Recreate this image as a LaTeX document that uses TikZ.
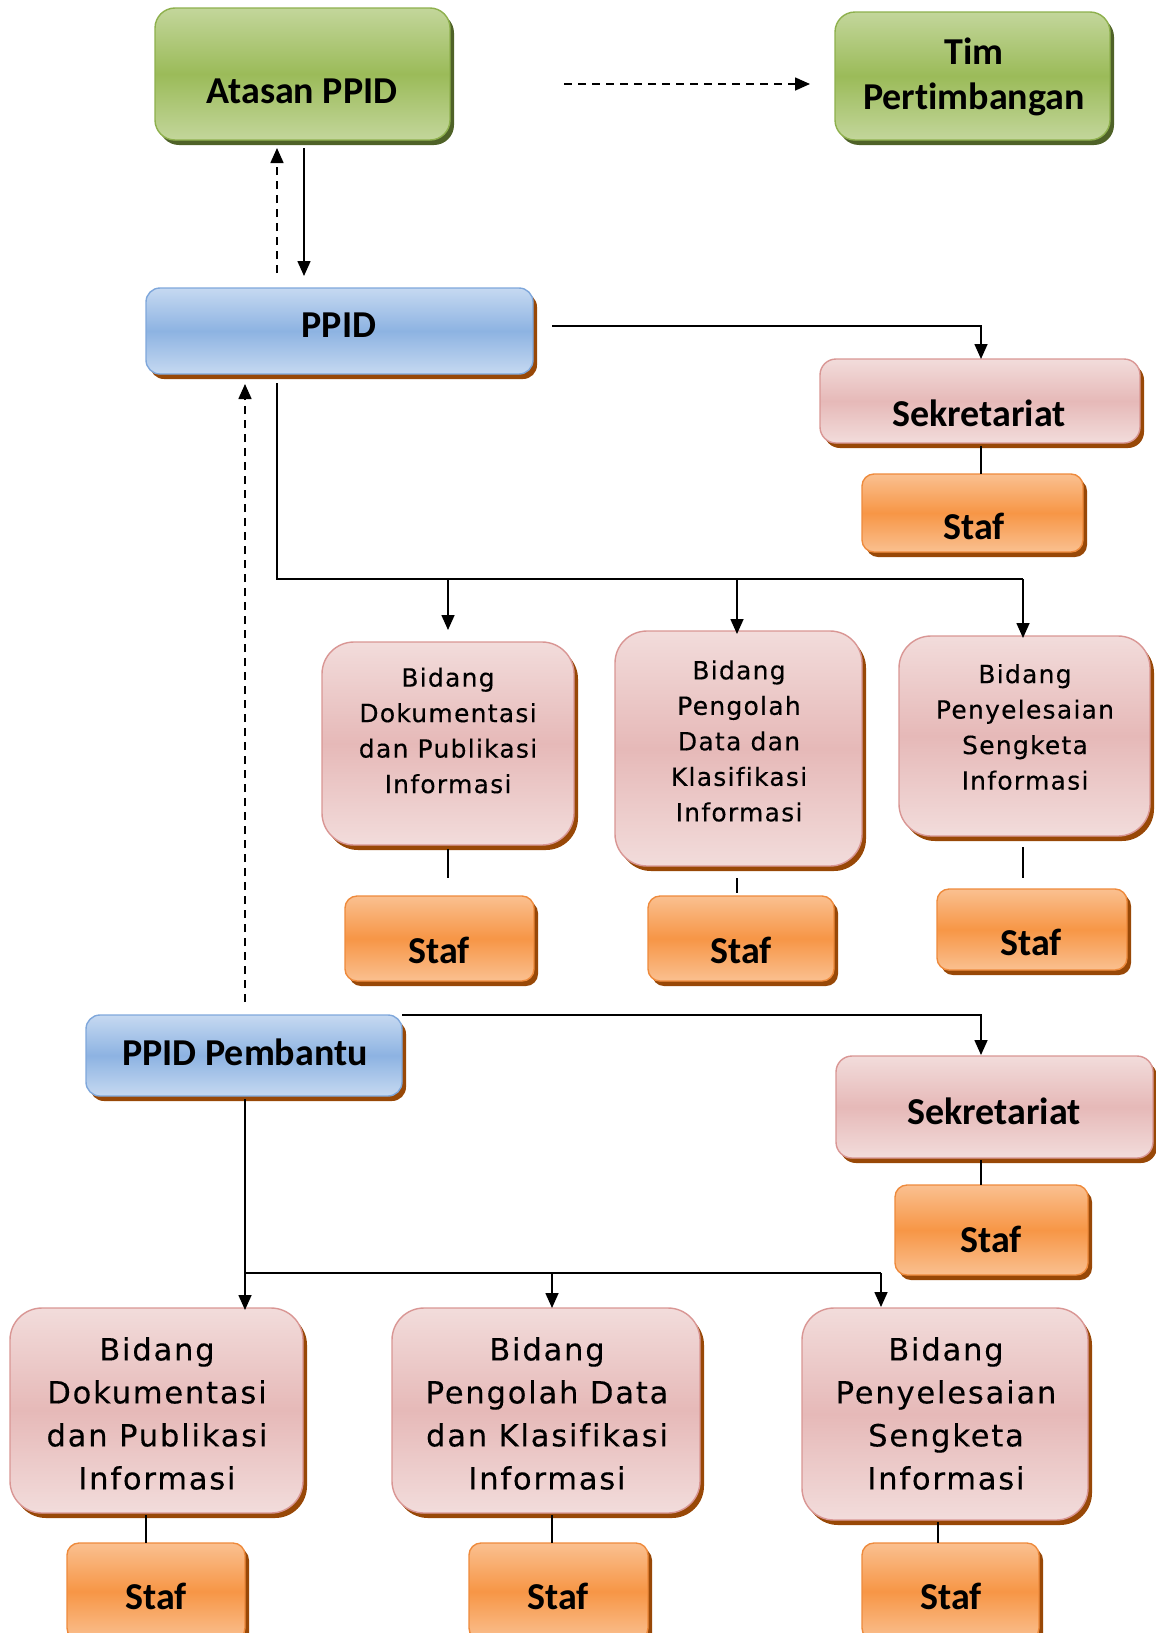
\documentclass[tikz,border=0pt]{standalone}
\usepackage{fontspec}
\setmainfont{Carlito}[Ligatures=CommonOff]
\newfontfamily\bidfont{DejaVu Sans}[LetterSpace=5,FakeBold=0.3,Ligatures=CommonOff]
\newfontfamily\bidfontB{DejaVu Sans}[LetterSpace=6,FakeBold=0.3,Ligatures=CommonOff]
\usetikzlibrary{arrows.meta,shadows}
\definecolor{gL}{HTML}{C3D69B}
\definecolor{gM}{HTML}{9BBB59}
\definecolor{gB}{HTML}{8EB04D}
\definecolor{gS}{HTML}{4F6228}
\definecolor{bL}{HTML}{C6D9F1}
\definecolor{bM}{HTML}{8DB3E2}
\definecolor{bB}{HTML}{7FA7DB}
\definecolor{pL}{HTML}{F2DCDB}
\definecolor{pM}{HTML}{E6B9B8}
\definecolor{pB}{HTML}{D99694}
\definecolor{oL}{HTML}{FAC090}
\definecolor{oM}{HTML}{F79646}
\definecolor{oB}{HTML}{EE8A3C}
\definecolor{shB}{HTML}{984807}
\begin{document}
\begin{tikzpicture}[x=1pt,y=-1pt,
  box/.style={line width=1.4pt, inner sep=0pt,
    drop shadow={shadow xshift=4pt,shadow yshift=-5pt,fill=#1,opacity=1}},
  box/.default=shB,
  gbox/.style={box=gS, draw=gB, top color=gL, bottom color=gL, middle color=gM, rounded corners=20pt},
  bbox/.style={box, draw=bB, top color=bL, bottom color=bL, middle color=bM, rounded corners=14pt},
  pbox/.style={box, draw=pB, top color=pL, bottom color=pL, middle color=pM, rounded corners=16pt},
  bidbox/.style={pbox, rounded corners=32pt},
  obox/.style={box, draw=oB, top color=oL, bottom color=oL, middle color=oM, rounded corners=12pt},
  head/.style={font=\bfseries\fontsize{38}{45}\selectfont, inner sep=0pt, align=center},
  bidA/.style={font=\bidfont\fontsize{25}{35.5}\selectfont, align=center, inner sep=0pt},
  bidB/.style={font=\bidfontB\fontsize{30.5}{43}\selectfont, align=center, inner sep=0pt},
  conn/.style={line width=1.6pt},
  arr/.style={conn, -{Triangle[length=15pt,width=13pt]}},
  darr/.style={arr, dash pattern=on 8pt off 6pt},
]
\useasboundingbox (0,0) rectangle (1156,1633);

% ---------- boxes ----------
\node[gbox, minimum width=295pt, minimum height=132pt] (atasan) at (302.5,74) {};
\node[gbox, minimum width=275pt, minimum height=128pt] (tim) at (972.5,76) {};
\node[bbox, minimum width=387pt, minimum height=86pt] (ppid) at (339.5,331) {};
\node[pbox, minimum width=320pt, minimum height=84pt] (sek1) at (980,401) {};
\node[obox, minimum width=221pt, minimum height=78pt] (staf1) at (972.5,513) {};
\node[bidbox, minimum width=252pt, minimum height=203pt] (b1) at (448,743.5) {};
\node[bidbox, minimum width=247pt, minimum height=235pt] (b2) at (738.5,748.5) {};
\node[bidbox, minimum width=251pt, minimum height=200pt] (b3) at (1024.5,736) {};
\node[obox, minimum width=189pt, minimum height=85pt] (s1) at (439.5,938.5) {};
\node[obox, minimum width=186pt, minimum height=85pt] (s2) at (741,938.5) {};
\node[obox, minimum width=190pt, minimum height=81pt] (s3) at (1032,929.5) {};
\node[bbox, minimum width=316pt, minimum height=81pt] (pemb) at (244,1055.5) {};
\node[pbox, minimum width=317pt, minimum height=102pt] (sek2) at (994.5,1107) {};
\node[obox, minimum width=193pt, minimum height=90pt] (staf2) at (991.5,1230) {};
\node[bidbox, minimum width=293pt, minimum height=205pt] (bb1) at (156.5,1410.5) {};
\node[bidbox, minimum width=308pt, minimum height=205pt] (bb2) at (546,1410.5) {};
\node[bidbox, minimum width=286pt, minimum height=212pt] (bb3) at (945,1414) {};
\node[obox, minimum width=178pt, minimum height=97pt] (bs1) at (156,1591.5) {};
\node[obox, minimum width=179pt, minimum height=97pt] (bs2) at (558.5,1591.5) {};
\node[obox, minimum width=177pt, minimum height=97pt] (bs3) at (950.5,1591.5) {};

% ---------- texts ----------
\node[head] (atasanT) at (302,91) {Atasan PPID};
\node[head] (timT) at (974,77) {Tim\\Pertimbangan};
\node[head] (ppidT) at (339,325) {PPID};
\node[head] (sek1T) at (979,413) {Sekretariat};
\node[head] (staf1T) at (974,526) {Staf};
\node[bidA] (b1T) at (448,730.5) {Bidang\\Dokumentasi\\dan Publikasi\\Informasi};
\node[bidA] (b2T) at (739,741) {Bidang\\Pengolah\\Data dan\\Klasifikasi\\Informasi};
\node[bidA] (b3T) at (1025,727) {Bidang\\Penyelesaian\\Sengketa\\Informasi};
\node[head] (s1T) at (439,950) {Staf};
\node[head] (s2T) at (741,950) {Staf};
\node[head] (s3T) at (1031,942) {Staf};
\node[head] (pembT) at (245,1052) {PPID Pembantu};
\node[head] (sek2T) at (994,1111) {Sekretariat};
\node[head] (staf2T) at (991,1239) {Staf};
\node[bidB] (bb1T) at (157,1413.5) {Bidang\\Dokumentasi\\dan Publikasi\\Informasi};
\node[bidB] (bb2T) at (547,1413.5) {Bidang\\Pengolah Data\\dan Klasifikasi\\Informasi};
\node[bidB] (bb3T) at (946,1413.5) {Bidang\\Penyelesaian\\Sengketa\\Informasi};
\node[head] (bs1T) at (156,1596) {Staf};
\node[head] (bs2T) at (558,1596) {Staf};
\node[head] (bs3T) at (951,1596) {Staf};

% ---------- connector end points ----------
\coordinate (dA) at (564,84);   \coordinate (dB) at (810,84);
\coordinate (u1) at (277,273);  \coordinate (u2) at (277,148);
\coordinate (d1) at (304,148);  \coordinate (d2) at (304,276);
\coordinate (p1) at (552,326);  \coordinate (p2) at (981,359);
\coordinate (t0) at (277,383);  \coordinate (t1) at (277,579);  \coordinate (t2) at (1023,579);
\coordinate (a1) at (448,579);  \coordinate (a1e) at (448,630);
\coordinate (a2s) at (737,579); \coordinate (a2e) at (737,634);
\coordinate (a3e) at (1023,638);
\coordinate (l1a) at (448,849); \coordinate (l1b) at (448,878);
\coordinate (l2a) at (737,878); \coordinate (l2b) at (737,893);
\coordinate (l3a) at (1023,847); \coordinate (l3b) at (1023,878);
\coordinate (k1) at (981,446);  \coordinate (k2) at (981,474);
\coordinate (v1) at (245,1002); \coordinate (v2) at (245,384);
\coordinate (q1) at (402,1015); \coordinate (q2) at (981,1055);
\coordinate (m1) at (981,1160); \coordinate (m2) at (981,1185);
\coordinate (r0) at (245,1099); \coordinate (r1) at (245,1310);
\coordinate (h0) at (245,1273); \coordinate (h1) at (881,1273);
\coordinate (h2) at (552,1273); \coordinate (h2e) at (552,1308);
\coordinate (h1e) at (881,1307);
\coordinate (n1a) at (146,1515); \coordinate (n1b) at (146,1543);
\coordinate (n2a) at (552,1515); \coordinate (n2b) at (552,1543);
\coordinate (n3a) at (938,1522); \coordinate (n3b) at (938,1543);

% ---------- connectors ----------
\draw[darr] (dA) -- (dB);
\draw[darr] (u1) -- (u2);
\draw[arr] (d1) -- (d2);
\draw[arr] (p1) -| (p2);
\draw[conn] (t0) -- (t1) -- (t2);
\draw[arr] (a1) -- (a1e);
\draw[arr] (a2s) -- (a2e);
\draw[arr] (t2) -- (a3e);
\draw[conn] (k1) -- (k2);
\draw[conn] (l1a) -- (l1b);
\draw[conn] (l2a) -- (l2b);
\draw[conn] (l3a) -- (l3b);
\draw[darr] (v1) -- (v2);
\draw[arr] (q1) -| (q2);
\draw[conn] (m1) -- (m2);
\draw[arr] (r0) -- (r1);
\draw[conn] (h0) -- (h1);
\draw[arr] (h2) -- (h2e);
\draw[arr] (h1) -- (h1e);
\draw[conn] (n1a) -- (n1b);
\draw[conn] (n2a) -- (n2b);
\draw[conn] (n3a) -- (n3b);
\end{tikzpicture}
\end{document}
